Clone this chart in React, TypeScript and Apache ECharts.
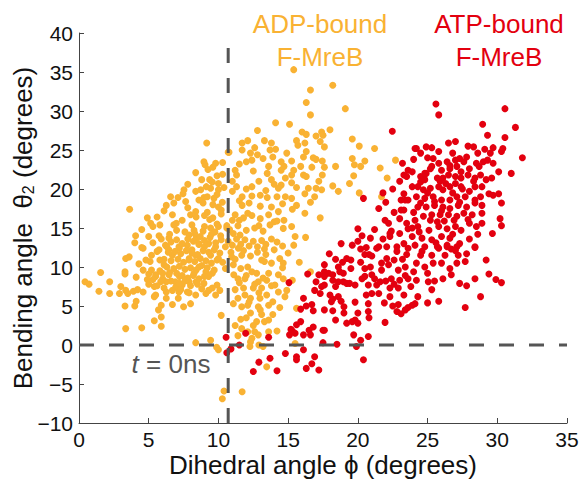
import React, { useEffect, useRef } from "react";
import * as echarts from "echarts";

const xTicks = [0, 5, 10, 15, 20, 25, 30, 35];
const yTicks = [-10, -5, 0, 5, 10, 15, 20, 25, 30, 35, 40];

const vLineX = 10.7;
const vLineTop = 38.7;
const hLineY = 0;

const adpUpper: number[][] = [
  [15.4,35.3],[16.6,32.7],[18.2,33.3],[16.3,31.1],[16.6,29.5],[19.1,30.3],[14.1,28.5],[15.1,28.3],[12.8,27.5],[16.0,27.3],
  [16.3,27.0],[17.4,27.3],[18.0,27.6],[17.0,26.8],[19.6,26.4],[20.1,25.5],[21.2,25.2],[10.7,24.7],[11.7,25.9],[12.1,26.2],
  [12.6,25.3],[13.3,26.2],[13.8,25.9],[13.7,25.0],[14.1,25.1],[15.6,26.2],[15.7,25.6],[16.2,25.9],[16.3,24.8],[16.1,24.1],
  [17.3,26.1],[17.6,25.4],[17.5,26.9],[11.7,25.0],[12.3,24.6],[12.4,23.7],[12.0,23.5],[13.2,23.9],[13.6,22.9],[14.5,23.5],
  [14.7,22.9],[15.25,23.6],[15.4,22.4],[15.9,22.9],[16.7,22.8],[17.0,23.8],[17.45,23.6],[17.6,22.8],[18.4,22.9],[19.6,23.9],
  [19.75,23.1],[20.5,23.6],[20.2,22.9],[21.6,22.7],[11.2,22.4],[11.3,21.8],[12.5,22.3],[13.5,22.0],[14.5,22.4],[15.25,21.8],
  [16.1,21.8],[16.3,21.6],[17.45,21.8],[19.7,21.7],[13.8,21.2],[14.5,20.5],[14.3,20.1],[15.25,20.8],[16.45,20.1],[17.0,20.1],
  [17.4,19.9],[18.2,20.4],[18.6,19.7],[19.4,20.7],[20.1,19.5],[21.7,19.0],[11.0,19.7],[11.7,19.0],[12.4,20.3],[12.4,19.1],
  [13.5,18.9],[14.2,19.0],[14.8,19.0],[15.25,18.8],[15.6,17.9],[16.2,19.4],[16.9,19.0],[11.7,17.9],[12.1,16.9],[13.0,17.8],
  [13.8,17.7],[14.3,17.1],[14.7,16.0],[15.25,15.2],[16.2,16.9],[17.3,16.3],[11.2,16.7],[11.0,16.0],[11.5,16.0],[12.9,15.3],
  [13.6,16.7],[14.0,15.8],[10.6,15.3],[22.7,23.7],[22.1,21.4],
  [11.5,18.5],[12.0,20.0],[12.9,21.0],[13.4,19.8],[14.0,20.6],[14.8,21.4],[15.6,20.2],[12.2,18.2],[13.0,19.2],[14.6,18.1],
  [15.3,17.4],[16.6,18.3],[17.2,21.0],[16.8,24.0],[14.9,24.6],[13.9,24.1],[12.8,24.4],[11.5,23.2],[11.0,21.0],[11.3,20.3],
];

const adpMain: number[][] = [
  [9.16,25.9],[10.76,24.7],[8.96,23.5],[9.04,23.1],[9.8,23.3],[10.3,23.4],[9.25,22.5],[8.37,22.1],[9.9,21.7],[9.37,21.2],
  [9.56,20.9],[9.13,20.3],[9.44,20.1],[8.73,19.9],[8.37,19.7],[10.0,20.7],[10.0,19.9],[7.53,19.9],[7.46,19.4],[6.57,19.0],
  [6.26,17.9],[6.8,18.2],[7.65,18.4],[8.96,18.9],[9.2,19.0],[9.68,18.8],[8.9,18.2],[10.28,18.3],[10.0,17.7],[10.2,17.3],
  [3.63,17.4],[8.37,17.1],[8.0,16.7],[9.2,17.0],[9.37,16.1],[6.7,16.7],[6.98,15.6],[5.14,15.6],[5.3,15.2],[5.8,15.4],
  [5.74,14.0],[4.06,14.0],[4.0,13.1],[4.6,12.4],[6.45,13.7],[7.17,12.6],[8.1,15.4],[8.25,14.7],[7.9,14.1],[8.4,13.7],
  [8.7,13.9],[9.0,15.2],[9.44,15.0],[9.9,15.5],[9.75,14.5],[10.16,14.0],[10.6,15.0],[9.3,13.0],[8.6,13.0],[9.0,12.6],
  [7.77,12.8],[8.1,12.2],[9.8,12.6],[10.5,12.6],[6.3,12.6],
  [0.43,8.1],[0.72,7.8],[1.55,9.3],[1.43,6.9],[2.2,8.1],[2.2,6.6],[3.0,7.5],[2.9,6.6],[3.3,9.4],[3.3,9.1],
  [3.35,7.0],[3.5,6.6],[3.9,6.9],[4.1,8.7],[3.3,5.0],[4.0,5.0],[4.1,5.6],[4.6,6.8],[5.0,7.8],[5.0,9.1],
  [5.5,8.8],[5.4,7.5],[5.4,6.2],[5.9,5.1],[5.7,4.5],[5.9,3.6],[5.4,3.1],[5.9,2.4],[4.5,2.2],[3.35,2.1],
  [5.74,12.2],[5.1,10.7],[5.2,9.6],[5.8,10.9],[6.1,10.3],[6.45,12.2],[6.7,11.5],[7.2,12.4],[3.6,11.3],[3.35,11.1],
  [6.0,9.2],[5.5,9.0],[5.86,8.1],[6.45,9.0],[7.2,8.8],[6.9,8.1],[7.65,8.3],[7.9,8.1],[7.4,7.7],[6.93,7.4],
  [6.26,6.8],[6.26,6.0],[5.5,6.4],[6.26,8.1],[7.17,6.8],[7.12,6.0],[7.77,6.8],[8.37,6.4],[6.7,5.2],[7.5,4.9],
  [8.0,5.3],[7.9,11.1],[8.37,11.5],[8.6,10.0],[9.1,9.4],[9.56,9.2],[9.3,8.8],[8.25,9.2],[8.4,8.1],[8.96,7.9],
  [9.9,7.7],[9.56,7.3],[9.1,6.6],[9.8,6.4],[10.5,9.8],[10.0,11.1],[9.44,11.5],[10.2,3.8],[9.87,-0.3],[9.44,0.6],
  [8.37,0.3],[10.4,-5.9],[10.28,-6.9],[4.2,7.1],[10.1,7.0],[10.0,-0.6],
  [6.2,12.8],[6.6,13.2],[7.0,13.5],[7.4,13.0],[7.8,13.6],[8.2,13.3],[8.6,12.9],[9.0,13.4],[9.4,13.8],[9.8,13.1],
  [10.2,13.5],[6.4,11.9],[6.9,12.0],[7.3,11.7],[7.7,12.1],[8.1,11.8],[8.5,11.6],[8.9,12.1],[9.3,11.9],[9.7,12.2],
  [10.1,11.8],[6.1,11.0],[6.6,10.8],[7.1,11.0],[7.5,10.6],[7.9,10.9],[8.3,10.7],[8.7,11.1],[9.1,10.8],[9.5,10.5],
  [9.9,10.9],[10.3,10.6],[6.3,10.0],[6.8,9.8],[7.2,10.1],[7.6,9.7],[8.0,9.9],[8.4,9.6],[8.8,10.2],[9.2,9.9],
  [9.7,9.6],[5.8,9.5],[6.5,9.3],[7.0,9.2],[7.4,8.9],[7.8,8.6],[8.2,8.9],[8.6,8.5],[9.0,8.8],[6.0,8.5],
  [6.6,8.2],[7.2,7.9],[7.6,8.2],[8.0,7.6],[8.5,7.8],[5.3,8.4],[5.6,7.6],[6.1,7.3],[6.7,7.0],[7.3,7.1],
  [7.9,6.7],[8.8,7.2],[9.3,7.0],[4.6,9.6],[4.9,8.4],[4.3,10.4],[4.8,10.9],[5.2,11.5],[5.6,12.0],[4.5,12.5],
  [5.3,13.1],[5.9,13.6],[6.5,14.2],[7.0,14.7],[7.6,14.5],[8.3,14.3],[8.9,14.6],[9.5,14.2],[10.0,15.2],[6.8,15.4],
  [7.4,16.0],[8.4,16.4],[9.0,16.6],[9.6,16.3],[10.2,16.8],[7.8,17.6],[9.6,18.0],[8.6,18.6],[9.9,19.3],[10.4,20.2],
  [10.3,21.9],[9.6,22.8],[8.8,21.2],[7.8,20.6],[7.1,18.9],[6.1,17.2],[5.6,16.4],[4.9,16.3],[4.5,14.8],[5.0,13.9],
];

const adpLower: number[][] = [
  [11.07,14.3],[11.55,14.1],[11.43,12.4],[11.67,11.5],[10.95,11.3],[11.07,10.3],[11.6,9.8],[12.1,10.0],[12.4,9.4],[13.1,10.9],
  [13.3,10.7],[13.8,10.5],[14.4,11.1],[14.65,10.5],[13.3,12.3],[14.2,13.2],[15.5,13.9],[15.4,12.8],[16.25,13.8],[14.65,14.95],
  [11.9,8.5],[11.4,8.5],[12.74,9.2],[13.6,9.2],[12.86,8.1],[13.46,8.3],[14.3,9.0],[14.65,8.5],[14.05,7.7],[13.1,7.3],
  [12.5,7.3],[11.8,7.3],[11.2,7.1],[11.9,6.4],[11.4,6.0],[12.3,6.0],[12.98,6.0],[13.46,6.4],[13.9,5.55],[13.6,5.1],
  [12.86,4.9],[12.1,5.1],[11.67,4.9],[11.07,5.3],[14.77,6.2],[14.9,7.0],[15.3,8.3],[15.6,4.7],[12.3,4.1],[13.1,3.9],
  [13.9,3.9],[12.74,3.0],[13.3,3.0],[11.67,2.1],[12.1,1.7],[12.6,1.7],[12.86,1.3],[13.6,1.7],[14.2,1.8],[12.4,0.85],
  [12.3,0.4],[13.2,-0.2],[12.26,-0.2],[13.46,-2.8],[15.5,0.2],[11.7,-6.0],[16.6,9.4],
  [10.7,13.3],[11.0,12.8],[11.3,13.6],[11.6,12.9],[11.9,13.5],[12.2,12.7],[12.5,13.3],[12.8,12.6],[13.1,13.4],[13.4,12.9],
  [13.8,13.6],[10.8,14.8],[11.4,15.3],[12.0,14.7],[12.6,15.0],[13.2,14.6],[13.7,15.4],[14.2,15.9],[11.8,16.3],[12.4,16.6],
  [13.0,16.2],[10.9,11.9],[11.2,11.0],[11.8,12.1],[12.3,11.4],[12.8,11.9],[13.4,11.6],[14.0,12.2],[14.6,12.7],[15.0,11.8],
  [11.1,9.0],[11.5,8.0],[12.0,8.9],[12.6,7.8],[13.2,8.6],[13.8,7.6],[14.3,6.8],[12.9,6.7],[12.2,5.5],[11.6,3.3],
  [12.0,3.5],[12.5,2.5],[13.0,4.5],[13.6,3.2],[14.4,4.8],[11.2,2.5],[11.4,1.2],[12.9,0.0],[14.6,9.9],[15.8,10.6],
];

const atpLow: number[][] = [
  [10.55,1.0],[10.6,-1.0],[10.9,-0.5],[11.5,0.0],[11.95,1.5],[13.6,1.0],[13.7,-1.7],[12.9,-2.2],[12.5,-3.4],[14.2,-3.3],
  [14.8,-1.1],[15.2,2.0],[15.1,1.3],[15.5,1.5],[15.6,-1.5],[15.6,-1.9],[16.1,-0.6],[16.1,1.3],[16.5,1.9],[16.8,2.3],
  [16.6,1.3],[16.3,-3.0],[16.7,-2.4],[17.2,-3.2],[16.9,-1.5],[17.5,0.3],[17.6,1.9],[18.5,0.1],[16.1,6.0],[16.4,9.1],
  [15.06,8.0],[16.7,5.2],[16.8,4.4],[17.6,4.5],[18.2,4.4],[18.4,3.2],[19.0,4.1],[19.2,2.8],[19.6,3.0],[19.8,3.2],
  [20.0,2.8],[19.7,1.3],[20.75,1.1],[20.4,-1.9],[19.9,-0.2],[20.2,0.6],[17.5,1.9],[15.3,1.8],
  [17.95,11.7],[17.6,10.3],[17.6,9.4],[17.9,9.2],[17.6,8.8],[18.2,9.0],[18.6,10.0],[18.7,9.4],[18.96,9.2],[18.2,8.3],
  [18.6,8.1],[17.4,7.5],[17.6,7.7],[18.4,7.5],[18.96,8.1],[19.2,7.9],[19.4,7.9],[19.5,9.8],[19.8,7.7],[20.3,8.5],
  [20.2,10.6],[20.0,13.3],[20.0,14.9],[20.2,12.3],[20.6,12.5],[20.8,11.6],[21.35,12.4],[20.5,9.8],[20.9,10.0],[20.5,8.8],
  [21.0,9.0],[21.2,8.5],[20.75,7.7],[21.35,7.7],[21.5,6.6],[21.0,6.6],[20.6,6.4],[20.75,5.3],[20.75,4.3],[20.8,3.5],
  [18.0,6.4],[18.2,5.9],[18.6,6.2],[18.8,5.6],[19.0,4.9],[19.8,5.5],[20.0,4.1],[18.1,5.55],[17.3,6.6],[20.4,18.8],
  [19.2,11.1],[19.5,10.9],[18.9,10.6],[18.4,11.0],[17.2,9.0],[17.0,8.1],[16.9,7.0],[16.3,5.0],[15.9,3.0],[15.6,2.6],
  [15.9,4.6],[18.8,13.0],[19.6,12.8],[20.3,14.0],
];

const atpHigh: number[][] = [
  [25.6,30.9],[25.8,29.5],[30.55,30.3],[28.95,28.3],[31.3,27.9],[22.47,27.4],[29.3,26.9],[30.55,26.6],[31.8,24.0],[31.0,22.0],
  [24.2,25.2],[24.5,24.6],[25.3,25.3],[25.8,24.8],[26.5,25.9],[27.0,26.1],[27.9,25.5],[28.3,25.4],[29.1,25.1],[29.7,25.3],
  [30.4,25.2],[30.3,24.8],[29.5,24.6],[28.6,24.6],[27.8,24.1],[27.3,23.9],[26.4,23.5],[25.8,23.3],[25.4,23.9],[27.0,23.7],
  [23.2,23.3],[23.6,22.4],[23.9,22.2],[23.3,21.8],[25.2,22.6],[26.0,22.4],[26.6,22.6],[27.1,22.9],[27.6,23.5],[28.0,22.6],
  [28.5,23.3],[29.0,23.5],[29.3,23.7],[29.7,23.3],[30.1,22.2],[29.6,21.4],[29.2,21.2],[28.8,21.8],[28.4,21.4],[27.9,21.8],
  [27.4,21.4],[27.0,21.6],[26.5,21.8],[26.1,21.4],[25.7,21.4],[24.8,21.2],[24.5,21.6],[23.9,20.3],[23.3,19.4],[23.1,18.6],
  [23.6,18.6],[24.2,19.0],[24.7,19.9],[25.2,20.1],[25.8,20.3],[26.1,19.9],[26.6,20.3],[27.0,20.7],[27.4,20.3],[28.0,19.7],
  [28.4,20.3],[28.9,20.3],[29.4,19.4],[29.7,19.2],[30.1,19.4],[30.3,18.2],[28.8,19.0],[28.4,18.6],[27.7,19.0],[27.1,19.0],
  [26.6,18.6],[26.0,18.6],[25.4,19.0],[24.8,18.8],[24.3,17.7],[24.9,17.7],[25.5,17.9],[26.1,17.7],[26.6,17.5],[27.2,17.9],
  [27.8,17.7],[28.4,18.2],[28.9,17.9],[28.9,16.9],[28.2,16.7],[27.6,16.9],[27.1,16.5],[26.5,16.7],[25.9,16.7],[25.3,16.7],
  [24.7,16.5],[24.1,16.0],[23.5,15.6],[23.0,16.2],[21.95,16.0],[22.2,15.6],[23.0,14.3],[23.6,14.9],[24.3,15.2],[25.1,14.7],
  [25.8,15.2],[26.4,14.9],[27.0,15.2],[27.4,14.7],[28.0,15.6],[28.5,15.2],[28.9,15.6],[30.2,16.2],[30.3,15.3],[29.65,14.3],
  [22.3,13.9],[23.9,13.9],[24.6,13.7],[25.3,13.5],[26.0,13.9],[26.6,13.7],[27.3,13.0],[28.4,12.6],[23.3,13.0],[22.8,12.6],
  [24.1,12.8],[24.8,12.6],[25.7,12.6],[26.4,12.6],[27.1,12.6],[21.5,12.6],
  [22.07,12.6],[23.6,12.4],[25.8,12.4],[26.7,12.3],[28.4,12.5],[27.8,11.7],[27.2,11.5],[26.25,11.5],[25.3,11.5],[24.5,11.5],
  [23.5,11.6],[22.8,12.0],[22.07,11.1],[21.7,10.5],[22.2,10.3],[22.9,9.6],[23.4,10.0],[24.2,10.5],[24.8,10.0],[25.4,10.5],
  [26.0,10.5],[26.6,9.8],[27.1,10.5],[27.7,10.7],[26.7,9.0],[26.1,8.5],[25.5,8.2],[25.05,8.1],[24.2,8.3],[23.6,8.5],
  [23.0,8.3],[22.4,8.5],[21.6,8.1],[22.3,7.3],[22.9,7.3],[23.3,6.4],[24.3,6.2],[25.3,7.1],[27.3,7.9],[27.8,7.6],
  [28.4,8.5],[29.2,10.9],[29.4,9.1],[29.9,8.4],[30.3,8.0],[28.8,6.2],[27.7,4.8],[25.8,5.6],[25.0,5.4],[24.1,5.3],
  [23.9,5.1],[23.6,4.8],[23.4,4.5],[22.9,5.2],[22.8,4.3],[23.1,4.0],[21.95,2.9],
  [24.0,17.0],[24.5,18.2],[25.0,19.5],[25.5,18.4],[26.0,17.2],[26.3,20.7],[26.8,19.5],[27.3,18.3],[27.5,20.0],[25.7,15.8],
  [26.2,15.9],[26.8,14.2],[25.2,16.0],[24.4,14.5],[23.9,15.0],[26.9,16.0],[27.9,16.1],[28.6,14.2],[28.0,13.6],[25.6,13.1],
  [24.6,12.0],[23.2,11.0],[22.6,10.9],[24.0,9.4],[25.0,9.2],[26.4,12.8],[27.0,12.1],[25.9,21.0],[25.3,22.9],[24.8,22.0],
  [26.6,23.0],[27.4,22.2],[28.3,21.0],[28.7,22.9],[26.8,24.6],[25.0,24.0],[24.0,23.8],[23.0,21.0],[22.5,20.0],[22.0,18.3],
  [21.5,17.5],[22.6,17.0],[23.3,17.3],[21.2,14.8],[21.8,13.6],[22.4,14.6],[20.9,13.7],[20.5,11.6],[21.0,11.4],[21.7,9.6],
  [22.0,8.2],[22.6,7.8],[23.4,8.9],[23.8,7.5],[22.3,6.2],[21.9,5.4],[22.5,5.0],[21.8,19.5],[23.1,17.3],[22.3,14.3],
  [24.1,25.2],[24.9,25.4],[24.9,22.0],[24.5,20.9],[24.3,20.3],[23.4,18.6],[23.5,21.6],
];

const adpData = [...adpUpper, ...adpMain, ...adpLower];
const atpData = [...atpLow, ...atpHigh];

const ORANGE = "#F9B233";
const RED = "#E3000F";
const GRAY = "#555555";
const FONT = "'Liberation Sans', Arial, Helvetica, sans-serif";

export default function App() {
  const ref = useRef<HTMLDivElement>(null);
  useEffect(() => {
    document.body.style.margin = "0";
    const chart = echarts.init(ref.current as HTMLDivElement, undefined, { renderer: "svg" });
    const fmt = (v: number) => String(v).replace("-", "\u2212");
    chart.setOption({
      animation: false,
      backgroundColor: "#ffffff",
      grid: { left: 79, right: 20, top: 33, bottom: 56, containLabel: false, outerBoundsMode: "none" },
      xAxis: {
        type: "value",
        min: xTicks[0],
        max: xTicks[xTicks.length - 1],
        interval: 5,
        name: "Dihedral angle \u03D5 (degrees)",
        nameLocation: "middle",
        nameGap: 29,
        nameMoveOverlap: false,
        nameTextStyle: { fontFamily: FONT, fontSize: 26, color: "#111" },
        axisLine: { show: true, onZero: false, lineStyle: { color: "#444", width: 1 } },
        axisTick: { show: true, inside: true, length: 5, lineStyle: { color: "#444" } },
        axisLabel: { fontFamily: FONT, fontSize: 21, color: "#111", margin: 6, formatter: fmt },
        splitLine: { show: false },
      },
      yAxis: {
        type: "value",
        min: yTicks[0],
        max: yTicks[yTicks.length - 1],
        interval: 5,
        name: "Bending angle  \u03B8{sub|2} (degrees)",
        nameLocation: "middle",
        nameGap: 43,
        nameRotate: 90,
        nameMoveOverlap: false,
        nameTextStyle: {
          fontFamily: FONT,
          fontSize: 26,
          color: "#111",
          rich: { sub: { fontFamily: FONT, fontSize: 16, color: "#111", verticalAlign: "bottom", padding: [10, 0, 0, 0] } },
        },
        axisLine: { show: true, onZero: false, lineStyle: { color: "#444", width: 1 } },
        axisTick: { show: true, inside: true, length: 5, lineStyle: { color: "#444" } },
        axisLabel: { fontFamily: FONT, fontSize: 21, color: "#111", margin: 6, formatter: fmt },
        splitLine: { show: false },
      },
      series: [
        {
          type: "scatter",
          data: adpData,
          symbolSize: 7,
          itemStyle: { color: ORANGE, opacity: 1 },
          z: 2,
        },
        {
          type: "scatter",
          data: atpData,
          symbolSize: 7,
          itemStyle: { color: RED, opacity: 1 },
          z: 3,
        },
        {
          type: "line",
          data: [[vLineX, yTicks[0]], [vLineX, vLineTop]],
          symbol: "none",
          lineStyle: { color: GRAY, width: 3, type: [15, 15] },
          z: 5,
          silent: true,
        },
        {
          type: "line",
          data: [[xTicks[0], hLineY], [xTicks[xTicks.length - 1], hLineY]],
          symbol: "none",
          lineStyle: { color: GRAY, width: 3, type: [15, 15] },
          z: 5,
          silent: true,
        },
      ],
      graphic: [
        {
          type: "text",
          x: 320,
          y: 40,
          style: {
            text: "ADP-bound\nF-MreB",
            fill: ORANGE,
            font: `26px ${FONT}`,
            lineHeight: 33,
            textAlign: "center",
            textVerticalAlign: "middle",
          },
        },
        {
          type: "text",
          x: 499,
          y: 40,
          style: {
            text: "ATP-bound\nF-MreB",
            fill: RED,
            font: `26px ${FONT}`,
            lineHeight: 33,
            textAlign: "center",
            textVerticalAlign: "middle",
          },
        },
        {
          type: "text",
          x: 171,
          y: 364,
          style: {
            text: "{i|t} = 0ns",
            fill: GRAY,
            font: `26px ${FONT}`,
            textAlign: "center",
            textVerticalAlign: "middle",
            rich: { i: { fontStyle: "italic", fontFamily: FONT, fontSize: 26, fill: GRAY } },
          },
        },
      ],
    });
    return () => chart.dispose();
  }, []);
  return <div ref={ref} style={{ width: 587, height: 479 }} />;
}
